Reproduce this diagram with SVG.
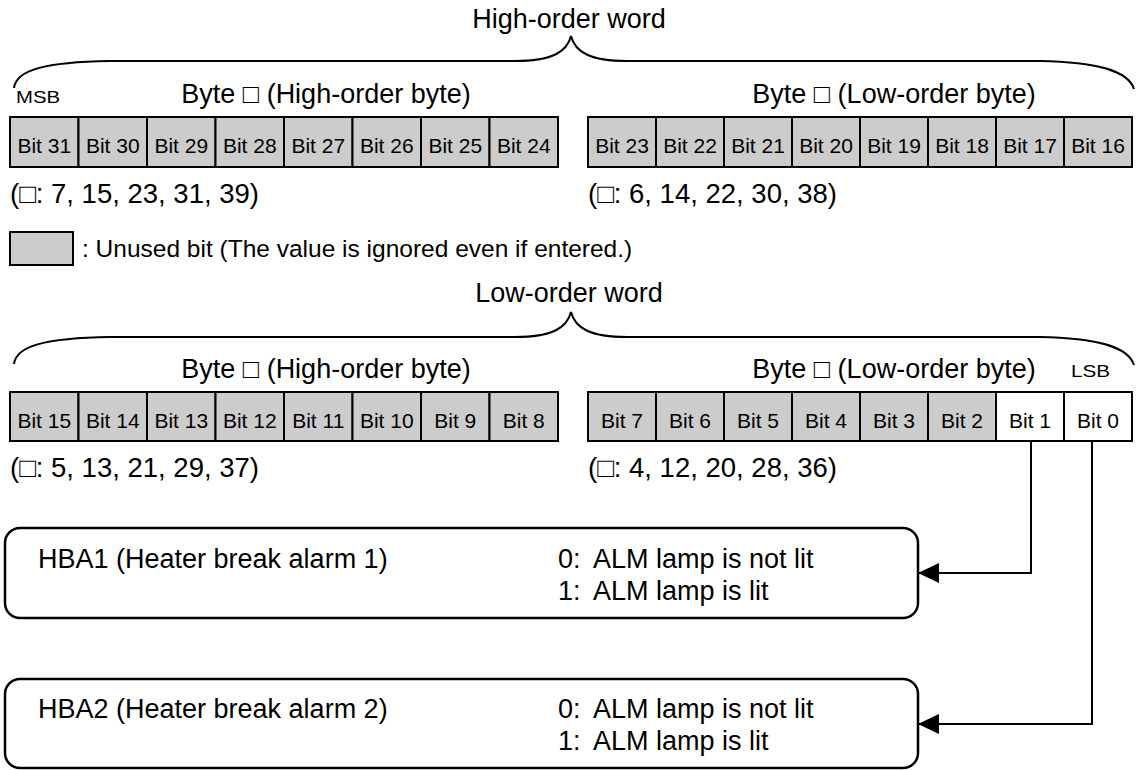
<svg xmlns="http://www.w3.org/2000/svg" width="1137" height="770" viewBox="0 0 1137 770">
<defs>
<style>
text{font-family:"Liberation Sans","DejaVu Sans",Arial,sans-serif;fill:#000}
.big{font-size:27px}
.lst{font-size:27.5px}
.bit{font-size:21px;text-anchor:middle}
.sm{font-size:16.5px}
.leg{font-size:24.5px}
.mid{text-anchor:middle}
.u{fill:#cccccc;stroke:#000;stroke-width:2}
.w{fill:#ffffff;stroke:#000;stroke-width:2}
.brace{fill:none;stroke:#000;stroke-width:2}
.box{fill:#fff;stroke:#000;stroke-width:2.5}
.ln{fill:none;stroke:#000;stroke-width:2}
</style>
<marker id="ah" markerWidth="22" markerHeight="20" refX="21" refY="10" orient="auto" markerUnits="userSpaceOnUse">
<path d="M0,0 L21,10 L0,20 Z" fill="#000"/>
</marker>
</defs>
<rect width="1137" height="770" fill="#fff"/>

<g id="high-word">
<text class="big mid" x="569" y="28">High-order word</text>
<path class="brace" d="M14,88 C16,70 45,62 110,61 L515,61 C552,61 567,52 571,36 C575,52 590,61 627,61 L1040,61 C1095,62 1128,70 1134,89"/>
<text class="sm" x="16" y="103" textLength="44" lengthAdjust="spacingAndGlyphs">MSB</text>
<text class="big mid" x="326" y="103">Byte □ (High-order byte)</text>
<text class="big mid" x="894" y="103">Byte □ (Low-order byte)</text>
</g>

<g id="byte-high-high">
<rect class="u" x="10" y="117" width="68.5" height="50"/>
<rect class="u" x="78.5" y="117" width="68.5" height="50"/>
<rect class="u" x="147" y="117" width="68.5" height="50"/>
<rect class="u" x="215.5" y="117" width="68.5" height="50"/>
<rect class="u" x="284" y="117" width="68.5" height="50"/>
<rect class="u" x="352.5" y="117" width="68.5" height="50"/>
<rect class="u" x="421" y="117" width="68.5" height="50"/>
<rect class="u" x="489.5" y="117" width="68.5" height="50"/>
<text class="bit" x="44.25" y="153">Bit 31</text>
<text class="bit" x="112.75" y="153">Bit 30</text>
<text class="bit" x="181.25" y="153">Bit 29</text>
<text class="bit" x="249.75" y="153">Bit 28</text>
<text class="bit" x="318.25" y="153">Bit 27</text>
<text class="bit" x="386.75" y="153">Bit 26</text>
<text class="bit" x="455.25" y="153">Bit 25</text>
<text class="bit" x="523.75" y="153">Bit 24</text>
<text class="lst" x="10" y="203">(□: 7, 15, 23, 31, 39)</text>
</g>

<g id="byte-high-low">
<rect class="u" x="588" y="117" width="68" height="50"/>
<rect class="u" x="656" y="117" width="68" height="50"/>
<rect class="u" x="724" y="117" width="68" height="50"/>
<rect class="u" x="792" y="117" width="68" height="50"/>
<rect class="u" x="860" y="117" width="68" height="50"/>
<rect class="u" x="928" y="117" width="68" height="50"/>
<rect class="u" x="996" y="117" width="68" height="50"/>
<rect class="u" x="1064" y="117" width="68" height="50"/>
<text class="bit" x="622" y="153">Bit 23</text>
<text class="bit" x="690" y="153">Bit 22</text>
<text class="bit" x="758" y="153">Bit 21</text>
<text class="bit" x="826" y="153">Bit 20</text>
<text class="bit" x="894" y="153">Bit 19</text>
<text class="bit" x="962" y="153">Bit 18</text>
<text class="bit" x="1030" y="153">Bit 17</text>
<text class="bit" x="1098" y="153">Bit 16</text>
<text class="lst" x="588" y="203">(□: 6, 14, 22, 30, 38)</text>
</g>

<g id="legend">
<rect class="u" x="10" y="232" width="63" height="33" stroke-width="1.5"/>
<text class="leg" x="82" y="257">: Unused bit (The value is ignored even if entered.)</text>
</g>

<g id="low-word">
<text class="big mid" x="569" y="302">Low-order word</text>
<path class="brace" d="M14,364 C16,346 45,338 110,337 L515,337 C552,337 567,328 571,312 C575,328 590,337 627,337 L1040,337 C1095,338 1128,346 1134,365"/>
<text class="big mid" x="326" y="378">Byte □ (High-order byte)</text>
<text class="big mid" x="894" y="378">Byte □ (Low-order byte)</text>
<text class="sm" x="1071" y="377" textLength="39" lengthAdjust="spacingAndGlyphs">LSB</text>
</g>

<g id="byte-low-high">
<rect class="u" x="10" y="392" width="68.5" height="49"/>
<rect class="u" x="78.5" y="392" width="68.5" height="49"/>
<rect class="u" x="147" y="392" width="68.5" height="49"/>
<rect class="u" x="215.5" y="392" width="68.5" height="49"/>
<rect class="u" x="284" y="392" width="68.5" height="49"/>
<rect class="u" x="352.5" y="392" width="68.5" height="49"/>
<rect class="u" x="421" y="392" width="68.5" height="49"/>
<rect class="u" x="489.5" y="392" width="68.5" height="49"/>
<text class="bit" x="44.25" y="428">Bit 15</text>
<text class="bit" x="112.75" y="428">Bit 14</text>
<text class="bit" x="181.25" y="428">Bit 13</text>
<text class="bit" x="249.75" y="428">Bit 12</text>
<text class="bit" x="318.25" y="428">Bit 11</text>
<text class="bit" x="386.75" y="428">Bit 10</text>
<text class="bit" x="455.25" y="428">Bit 9</text>
<text class="bit" x="523.75" y="428">Bit 8</text>
<text class="lst" x="10" y="477">(□: 5, 13, 21, 29, 37)</text>
</g>

<g id="byte-low-low">
<rect class="u" x="588" y="392" width="68" height="49"/>
<rect class="u" x="656" y="392" width="68" height="49"/>
<rect class="u" x="724" y="392" width="68" height="49"/>
<rect class="u" x="792" y="392" width="68" height="49"/>
<rect class="u" x="860" y="392" width="68" height="49"/>
<rect class="u" x="928" y="392" width="68" height="49"/>
<rect class="w" x="996" y="392" width="68" height="49"/>
<rect class="w" x="1064" y="392" width="68" height="49"/>
<text class="bit" x="622" y="428">Bit 7</text>
<text class="bit" x="690" y="428">Bit 6</text>
<text class="bit" x="758" y="428">Bit 5</text>
<text class="bit" x="826" y="428">Bit 4</text>
<text class="bit" x="894" y="428">Bit 3</text>
<text class="bit" x="962" y="428">Bit 2</text>
<text class="bit" x="1030" y="428">Bit 1</text>
<text class="bit" x="1098" y="428">Bit 0</text>
<text class="lst" x="588" y="477">(□: 4, 12, 20, 28, 36)</text>
</g>

<g id="hba1">
<rect class="box" x="5" y="528" width="913" height="90" rx="15"/>
<text class="big" x="38" y="568">HBA1 (Heater break alarm 1)</text>
<text class="big" x="558" y="568">0:<tspan x="593">ALM lamp is not lit</tspan></text>
<text class="big" x="558" y="600">1:<tspan x="593">ALM lamp is lit</tspan></text>
</g>

<g id="hba2">
<rect class="box" x="5" y="679" width="913" height="89" rx="15"/>
<text class="big" x="38" y="718">HBA2 (Heater break alarm 2)</text>
<text class="big" x="558" y="718">0:<tspan x="593">ALM lamp is not lit</tspan></text>
<text class="big" x="558" y="750">1:<tspan x="593">ALM lamp is lit</tspan></text>
</g>

<g id="connectors">
<polyline class="ln" points="1031,441 1031,573 918,573" marker-end="url(#ah)"/>
<polyline class="ln" points="1092,441 1092,724 918,724" stroke-width="1.6" marker-end="url(#ah)"/>
</g>
</svg>
